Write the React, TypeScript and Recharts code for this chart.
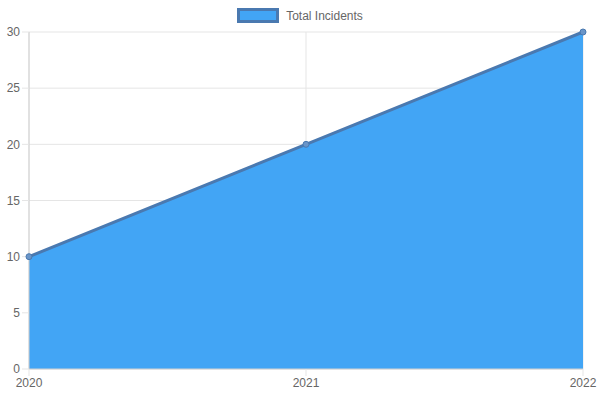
import { AreaChart, Area, XAxis, YAxis, CartesianGrid, Legend } from "recharts";

const years = ["2020", "2021", "2022"];
const incidents = [10, 20, 30];
const yTicks = [0, 5, 10, 15, 20, 25, 30];

const data = years.map((year, i) => ({ year, incidents: incidents[i] }));

const LegendBox = () => (
  <div style={{ display: "flex", justifyContent: "center", alignItems: "center", height: 32 }}>
    <div style={{ display: "flex", alignItems: "center", marginTop: -1 }}>
      <span
        style={{
          display: "inline-block",
          width: 36,
          height: 9,
          background: "#42a5f5",
          border: "3px solid #4a79b0",
          marginRight: 7,
        }}
      />
      <span style={{ fontSize: 12, color: "#666" }}>Total Incidents</span>
    </div>
  </div>
);

const App = () => {
  return (
    <div style={{ position: "absolute", left: 0, top: 0, fontFamily: "'Liberation Sans', Arial, sans-serif" }}>
      <AreaChart width={600} height={400} data={data} margin={{ top: 0, right: 17, bottom: 6, left: 0 }}>
        <Legend verticalAlign="top" content={<LegendBox />} wrapperStyle={{ height: 32, left: 0, width: 600 }} />
        <CartesianGrid stroke="#e5e5e5" />
        <XAxis
          dataKey="year"
          height={25}
          tick={{ fill: "#666", fontSize: 12 }}
          tickLine={{ stroke: "#e5e5e5" }}
          axisLine={{ stroke: "#d0d0d0" }}
          tickSize={7}
          tickMargin={2}
        />
        <YAxis
          width={29}
          domain={[0, 30]}
          ticks={yTicks}
          tick={{ fill: "#666", fontSize: 12 }}
          tickLine={{ stroke: "#e5e5e5" }}
          axisLine={{ stroke: "#d0d0d0" }}
          tickSize={7}
          tickMargin={2}
        />
        <Area
          type="linear"
          dataKey="incidents"
          stroke="#4a79b0"
          strokeWidth={3}
          fill="#42a5f5"
          fillOpacity={1}
          dot={{ r: 3, fill: "#6a95c8", stroke: "#4a79b0", strokeWidth: 1 }}
          isAnimationActive={false}
        />
      </AreaChart>
    </div>
  );
};

export default App;
